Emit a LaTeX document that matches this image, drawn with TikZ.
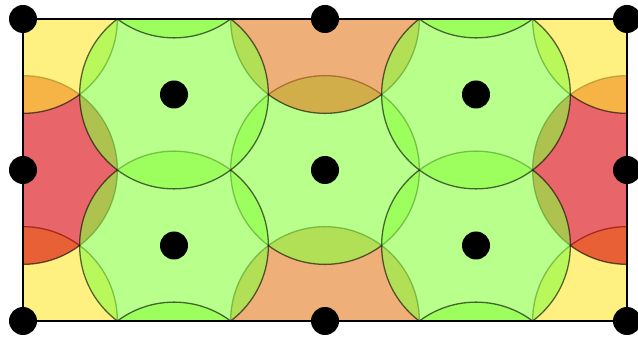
\documentclass[tikz,border=0pt]{standalone}
\definecolor{cY}{RGB}{255,230,47}
\definecolor{cR}{RGB}{217,0,5}
\definecolor{cO}{RGB}{227,122,30}
\definecolor{cG}{RGB}{137,255,63}
\begin{document}
\begin{tikzpicture}[x=1pt,y=-1pt,
  disc/.style={opacity=0.6, draw=black, line width=1.3pt},
  dot/.style={circle, fill=black, inner sep=0pt, minimum size=28pt}]
\useasboundingbox (0,0) rectangle (638,339);
\begin{scope}
\clip (23,19) rectangle (627,321);
\foreach \xx/\yy/\c in {0/0/cY, 1/0/cO, 2/0/cY, 0/0.5/cR, 1/0.5/cG, 2/0.5/cR, 0/1/cY, 1/1/cO, 2/1/cY,
  0.5/0.25/cG, 1.5/0.25/cG, 0.5/0.75/cG, 1.5/0.75/cG, 0.5/1.25/cG, 1.5/1.25/cG, 0.5/-0.25/cG, 1.5/-0.25/cG}
  \draw[disc, fill=\c] ({23+302*\xx},{321-302*\yy}) circle[radius=94.375];
\end{scope}
\draw[line width=2.5pt] (23,19) rectangle (627,321);
\foreach \xx/\yy/\n in {0/0/a, 1/0/b, 2/0/c, 0/0.5/d, 1/0.5/e, 2/0.5/f, 0/1/g, 1/1/h, 2/1/i,
  0.5/0.25/j, 1.5/0.25/k, 0.5/0.75/l, 1.5/0.75/m}
  \node[dot] (\n) at ({23+302*\xx},{321-302*\yy}) {};
\end{tikzpicture}
\end{document}
